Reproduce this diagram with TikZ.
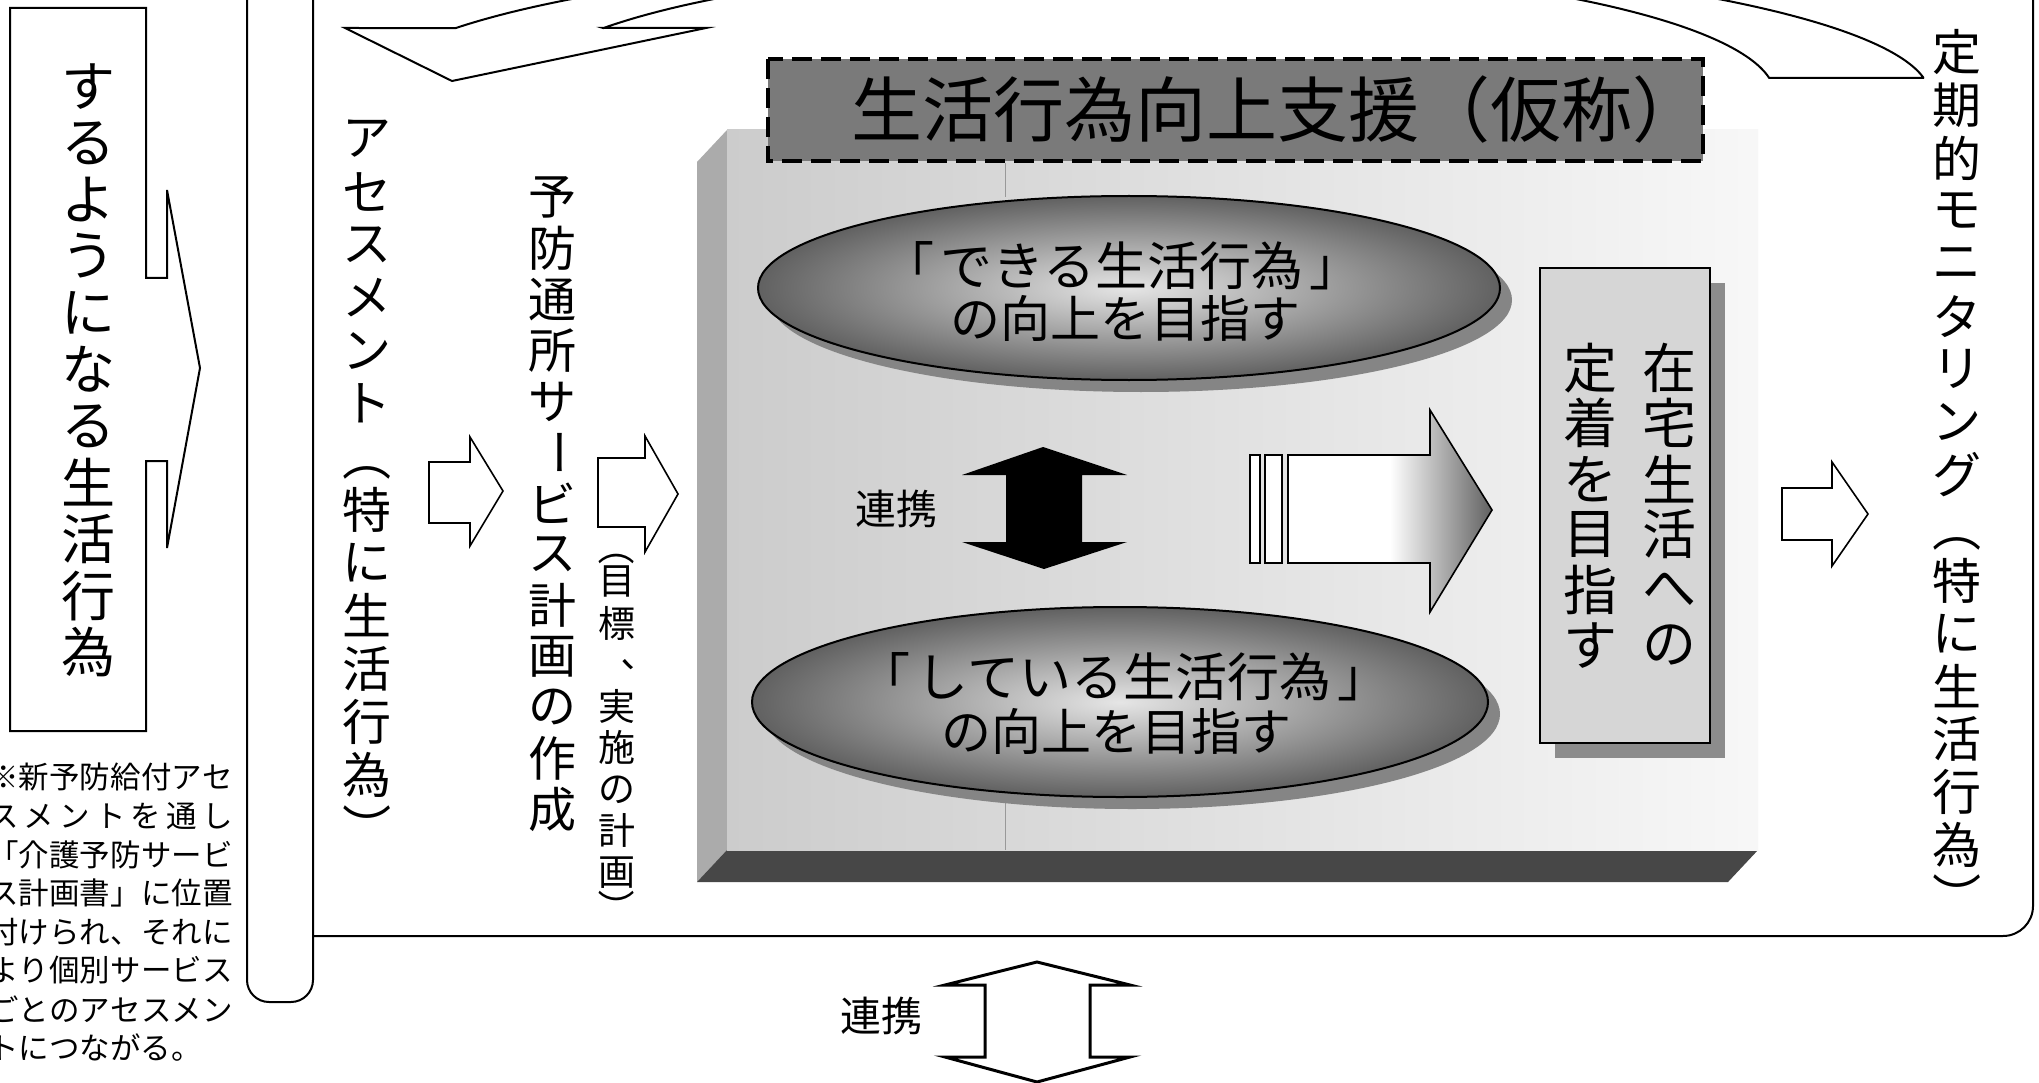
\documentclass[tikz,border=0pt]{standalone}
\usepackage{fontspec}
\usepackage{graphicx}
\setmainfont{Noto Sans CJK JP}
\usetikzlibrary{shadings}
\pgfdeclarehorizontalshading{arrowshade}{100bp}{color(0bp)=(white); color(25bp)=(white); color(50bp)=(white); color(75bp)=(black!62); color(100bp)=(black!62)}
\newcommand\vchoon{\rotatebox[origin=c]{-90}{ー}}
\newcommand\vlp{\rotatebox[origin=c]{-90}{（}}
\newcommand\vrp{\rotatebox[origin=c]{-90}{）}}
\newcommand\vcm{\rotatebox[origin=c]{180}{、}}
\ExplSyntaxOn
\dim_new:N \l_vt_half_dim
\NewDocumentCommand\vt{O{1}mm}{
  \dim_set:Nn \l_vt_half_dim { \fp_to_dim:n { #1 * (#2) } }
  \vbox{\offinterlineskip
    \tl_map_inline:nn {#3}{
      \tl_if_in:nnTF {\vlp\vrp} {##1}
        {\hbox_to_wd:nn{1.2em}{\hss\vbox_to_ht:nn{\l_vt_half_dim}{\vss\hbox{##1}\vss}\hss}}
        {\hbox_to_wd:nn{1.2em}{\hss\vbox_to_ht:nn{#2}{\vss\hbox{##1}\vss}\hss}}
    }}
}
\NewDocumentCommand\jl{m}{\hbox_to_wd:nn{245pt}{\tl_map_inline:nn{#1}{##1\hfill}\unskip}}
\ExplSyntaxOff
\newcommand\fs[1]{\fontsize{#1}{#1}\selectfont}
\newcommand\bsp{\hspace{0.12em}}
\begin{document}
\begin{tikzpicture}[x=1pt,y=-1pt,
  outline/.style={draw=black,line width=2pt,line join=miter},
  hollow/.style={draw=black,line width=1.6pt,fill=white,line join=miter},
  txt/.style={inner sep=0pt,outer sep=0pt},
  vcol/.style={inner sep=0pt,outer sep=0pt,anchor=north},
  note/.style={inner sep=0pt,outer sep=0pt,anchor=west,font=\fs{30.5}}]
\useasboundingbox (0,0) rectangle (2039,1083);
\fill[white] (0,0) rectangle (2039,1083);
\clip (0,0) rectangle (2039,1083);

% ---------- 3D panel ----------
\fill[black!33] (727,130) -- (697,162) -- (697,882) -- (727,850) -- cycle;
\fill[black!72] (727,850) -- (697,882) -- (1728,882) -- (1758,850) -- cycle;
\shade[left color=black!20,right color=black!3] (727,130) rectangle (1758,850);
\draw[black!40,line width=0.8pt] (1005,163) -- (1005,197);
\draw[black!40,line width=0.8pt] (1005,800) -- (1005,850);

% ---------- title ----------
\draw[fill=black!52,line width=3.5pt,dash pattern=on 20pt off 9pt] (768,59) rectangle (1703,161);
\node[txt,font=\fs{71}] (title) at (1277,110) {生活行為向上支援（仮称）};

% ---------- ellipses ----------
\fill[black!48] (1141,300) ellipse [x radius=371,y radius=92];
\shade[inner color=black!10,outer color=black!62] (1129,288) ellipse [x radius=371,y radius=92];
\draw[line width=2pt] (1129,288) ellipse [x radius=371,y radius=92];
\node[txt,font=\fs{52}] (e1a) at (1122,266) {「\bsp できる生活行為\bsp 」};
\node[txt,font=\fs{50}] (e1b) at (1125,318) {の向上を目指す};

\fill[black!48] (1132,714) ellipse [x radius=368,y radius=95];
\shade[inner color=black!10,outer color=black!62] (1120,702) ellipse [x radius=368,y radius=95];
\draw[line width=2pt] (1120,702) ellipse [x radius=368,y radius=95];
\node[txt,font=\fs{52}] (e2a) at (1124,677) {「\bsp している生活行為\bsp 」};
\node[txt,font=\fs{50}] (e2b) at (1116,731) {の向上を目指す};

% ---------- black double arrow ----------
\fill[black] (1043,447) -- (1127,475) -- (1082,475) -- (1082,542) -- (1127,542) -- (1044,569)
  -- (962,542) -- (1006,542) -- (1006,475) -- (962,475) -- cycle;
\node[txt,font=\fs{41}] (renkei1) at (896,509) {連携};

% ---------- gradient arrow ----------
\shade[shading=arrowshade] (1288,455) -- (1430,455) -- (1430,410) -- (1492,510) -- (1430,612) -- (1430,563) -- (1288,563) -- cycle;
\draw[line width=1.6pt,line join=miter] (1288,455) -- (1430,455) -- (1430,410) -- (1492,510) -- (1430,612) -- (1430,563) -- (1288,563) -- cycle;
\draw[hollow] (1250,455) rectangle (1260,563);
\draw[hollow] (1265,455) rectangle (1282,563);

% ---------- right box ----------
\fill[black!45] (1555,283) rectangle (1725,758);
\draw[outline,fill=black!16] (1540,268) rectangle (1710,743);
\node[vcol,font=\fs{54}] (zaitaku) at (1669,340) {\vt{55.5pt}{在宅生活への}};
\node[vcol,font=\fs{54}] (teichaku) at (1590,340) {\vt{55.5pt}{定着を目指す}};

% ---------- frame, bar, curved arrow ----------
\draw[outline,rounded corners=22pt] (247,-10) -- (247,1002) -- (313,1002) -- (313,-10);
\draw[outline,rounded corners=30pt] (313,936) -- (2033,936) -- (2033,-10);
\draw[outline] plot[smooth,domain=245:208.6,samples=40] ({1145+785*cos(\x)},{96+142*sin(\x)})
  -- (345,28) -- (452,81) -- (706,28) -- (603,28)
  -- plot[smooth,domain=210.7:245,samples=40] ({1145+630*cos(\x)},{96+133*sin(\x)});
\draw[outline] plot[smooth,domain=300:352.2,samples=40] ({1145+630*cos(\x)},{96+133*sin(\x)})
  -- (1924,78)
  -- plot[smooth,domain=352.7:300,samples=40] ({1145+785*cos(\x)},{96+142*sin(\x)});

% ---------- left box with arrow ----------
\draw[outline] (10,8) -- (146,8) -- (146,278) -- (167,278) -- (167,190) -- (200,368) -- (167,548)
  -- (167,461) -- (146,461) -- (146,731) -- (10,731) -- cycle;
\node[vcol,font=\fs{54}] (suru) at (88,58) {\vt{56.6pt}{するようになる生活行為}};

% ---------- columns ----------
\node[vcol,font=\fs{49}] (asm) at (367,112) {\vt{53pt}{アセスメント\vlp 特に生活行為\vrp}};
\node[vcol,font=\fs{48}] (yobo) at (552,172) {\vt{51pt}{予防通所サ\vchoon ビス計画の作成}};
\node[vcol,font=\fs{37}] (mokuhyo) at (617,532) {\vt[0.7]{41.5pt}{\vlp 目標\vcm 実施の計画\vrp}};
\node[vcol,font=\fs{49}] (teiki) at (1957,26) {\vt{52.8pt}{定期的モニタリング\vlp 特に生活行為\vrp}};

% ---------- hollow arrows ----------
\draw[hollow] (429,462) -- (470,462) -- (470,437) -- (503,491) -- (470,546) -- (470,523) -- (429,523) -- cycle;
\draw[hollow] (598,458) -- (645,458) -- (645,436) -- (678,494) -- (645,552) -- (645,527) -- (598,527) -- cycle;
\draw[hollow] (1782,488) -- (1832,488) -- (1832,462) -- (1868,514) -- (1832,566) -- (1832,540) -- (1782,540) -- cycle;

% ---------- bottom double arrow ----------
\draw[draw=black,line width=3pt,fill=white,line join=miter] (1037,962) -- (1130,985) -- (1090,985) -- (1090,1057) -- (1130,1057) -- (1037,1082)
  -- (945,1057) -- (985,1057) -- (985,985) -- (945,985) -- cycle;
\node[txt,font=\fs{41}] (renkei2) at (881,1016) {連携};

% ---------- note ----------
\node[note] (n1) at (-12,777) {\jl{※新予防給付アセ}};
\node[note] (n2) at (-12,815.7) {\jl{スメントを通し}};
\node[note] (n3) at (-12,854.4) {\jl{「介護予防サービ}};
\node[note] (n4) at (-12,893.1) {\jl{ス計画書」に位置}};
\node[note] (n5) at (-12,931.8) {\jl{付けられ、それに}};
\node[note] (n6) at (-12,970.5) {\jl{より個別サービス}};
\node[note] (n7) at (-12,1009.2) {\jl{ごとのアセスメン}};
\node[note] (n8) at (-12,1047.9) {トにつながる。};
\end{tikzpicture}
\end{document}
